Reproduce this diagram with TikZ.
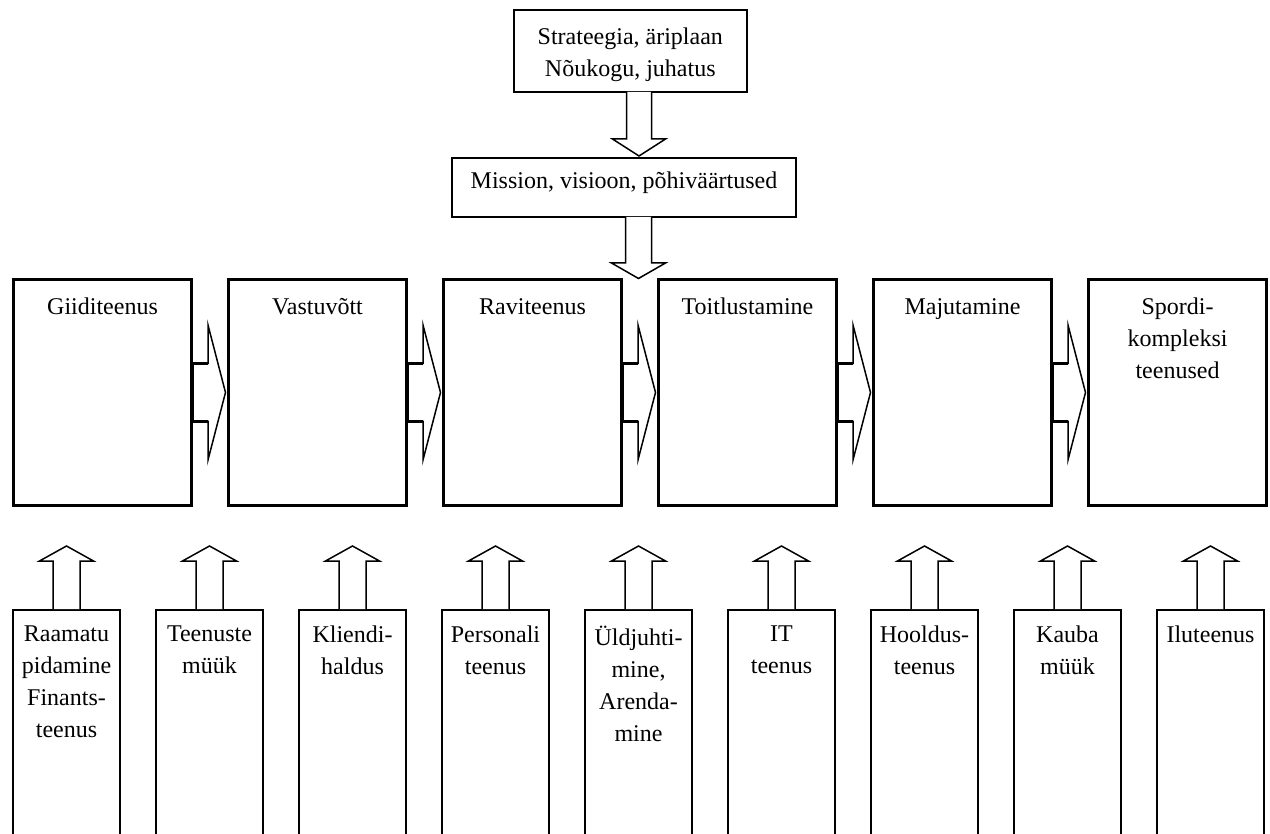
\documentclass[tikz,border=0pt]{standalone}
\usepackage{fontspec}
\setmainfont{Liberation Serif}
\usetikzlibrary{calc}
\begin{document}
\begin{tikzpicture}[x=1pt,y=-1pt,
  mainbox/.style={draw, line width=3pt, minimum width=178pt, minimum height=226pt, inner sep=0pt},
  topbox/.style={draw, line width=2pt, inner sep=0pt},
  subbox/.style={draw, line width=2pt, minimum width=107pt, minimum height=250pt, inner sep=0pt},
  lbl/.style={font=\fontsize{24}{32}\selectfont, align=center, inner sep=0pt, anchor=north},
  blockarrow/.style={draw, fill=white, line width=1.5pt, line join=miter},
  shaftline/.style={line width=3pt},
]
\useasboundingbox (0,0) rectangle (1270,834);

% top boxes
\node[topbox, minimum width=233pt, minimum height=81.5pt] (top) at (630.3,51.25) {};
\node[lbl] (toptxt) at ($(top.north)+(0,18.5)$) {Strateegia, äriplaan\\Nõukogu, juhatus};
\node[topbox, minimum width=344pt, minimum height=59pt] (mis) at (624,187.5) {};
\node[lbl] (mistxt) at ($(mis.north)+(0,15)$) {Mission, visioon, põhiväärtused};

% main boxes
\foreach \i/\t in {1/{Giiditeenus},2/{Vastuvõtt},3/{Raviteenus},4/{Toitlustamine},5/{Majutamine},6/{Spordi-\\kompleksi\\teenused}}{
  \node[mainbox] (b\i) at ({215*\i-112.5},392.5) {};
  \node[lbl] (bt\i) at ($(b\i.north)+(0,20)$) {\t};
}

% down arrows
\coordinate (d1) at (639,92);
\draw[blockarrow] ($(d1)+(-12.5,0)$) -- ++(0,47) -- ++(-14,0) -- ++(26.5,17) -- ++(26.5,-17) -- ++(-14,0) -- ++(0,-47);
\coordinate (d2) at (638.5,217);
\draw[blockarrow] ($(d2)+(-13,0)$) -- ++(0,46) -- ++(-14,0) -- ++(27,15.5) -- ++(27,-15.5) -- ++(-14,0) -- ++(0,-46);

% arrows between main boxes
\foreach \i/\j in {1/2,2/3,3/4,4/5,5/6}{
  \draw[blockarrow] ($(b\i.east)+(0,-29)$) -- ($(b\i.east)+(15,-29)$) -- ($(b\i.east)+(15,-67.5)$)
     -- ($(b\j.west)+(-1.5,0)$) -- ($(b\i.east)+(15,67.5)$) -- ($(b\i.east)+(15,29)$)
     -- ($(b\i.east)+(0,29)$) -- cycle;
  \draw[shaftline] ($(b\i.east)+(0,-29)$) -- ($(b\i.east)+(15,-29)$);
  \draw[shaftline] ($(b\i.east)+(0,29)$) -- ($(b\i.east)+(15,29)$);
}

% bottom boxes and up arrows
\foreach \i/\t in {1/{Raamatu\\pidamine\\Finants-\\teenus},2/{Teenuste\\müük},3/{Kliendi-\\haldus},4/{Personali\\teenus},5/{Üldjuhti-\\mine,\\Arenda-\\mine},6/{IT\\teenus},7/{Hooldus-\\teenus},8/{Kauba\\müük},9/{Iluteenus}}{
  \node[subbox] (s\i) at ({143*\i-76.5},735) {};
  \node[lbl] (st\i) at ($(s\i.north)+(0,17)$) {\t};
  \draw[blockarrow] ($(s\i.north)+(-13.5,0)$) -- ++(0,-48) -- ++(-13.5,0) -- ++(27,-15) -- ++(27,15) -- ++(-13.5,0) -- ++(0,48);
}
\end{tikzpicture}
\end{document}
